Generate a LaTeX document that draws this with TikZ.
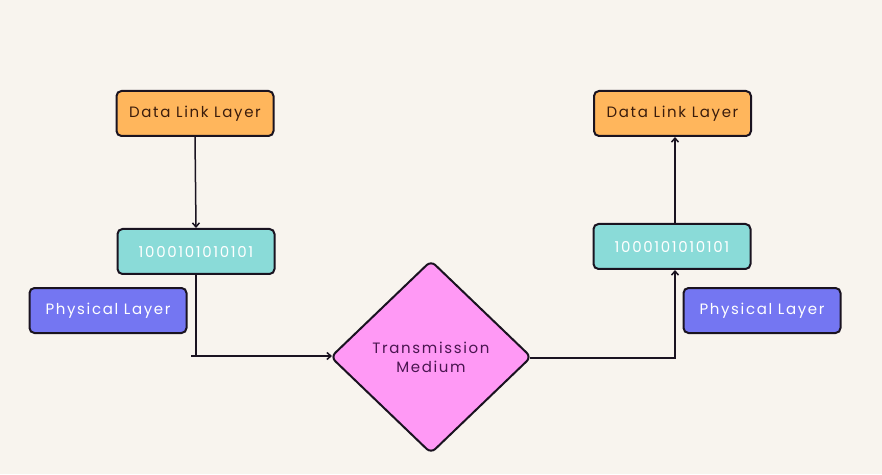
\documentclass[tikz,border=0pt]{standalone}
\usepackage{fontspec}
\setmainfont{Poppins}[LetterSpace=11]
\usetikzlibrary{shapes.geometric,arrows.meta}
\definecolor{bg}{HTML}{F8F4EE}
\definecolor{dll}{HTML}{FFB65C}
\definecolor{bits}{HTML}{8ADBD8}
\definecolor{phys}{HTML}{7476F2}
\definecolor{med}{HTML}{FF99F5}
\definecolor{dlltext}{HTML}{3A1C0C}
\definecolor{medtext}{HTML}{4A1550}
\definecolor{edge}{HTML}{1A1320}
\tikzset{
  box/.style={draw=edge, line width=2pt, rounded corners=5pt, minimum width=157pt, minimum height=45pt, inner sep=0pt, font=\fontsize{15}{18}\selectfont},
  dllbox/.style={box, fill=dll, text=dlltext},
  bitsbox/.style={box, fill=bits, text=white},
  physbox/.style={box, fill=phys, text=white},
  medbox/.style={diamond, draw=edge, line width=2pt, rounded corners=6pt, fill=med, text=medtext, minimum width=201pt, minimum height=193pt, inner sep=0pt, align=center, font=\fontsize{15}{19}\selectfont},
  link/.style={draw=edge, line width=1.5pt, -{Straight Barb[length=4pt,width=7pt]}},
}
\begin{document}
\begin{tikzpicture}[x=1pt,y=1pt]
\fill[bg] (0,0) rectangle (882,474);
\useasboundingbox (0,0) rectangle (882,474);
\node[dllbox] (dllL) at (195,360.5) {Data Link Layer};
\node[bitsbox] (bitsL) at (196,222.5) {1000101010101};
\node[physbox] (physL) at (108,163.5) {Physical Layer};
\node[medbox] (med) at (431,117) {Transmission\\Medium};
\node[dllbox] (dllR) at (672.5,360.5) {Data Link Layer};
\node[bitsbox] (bitsR) at (672,227.5) {1000101010101};
\node[physbox] (physR) at (762,163.5) {Physical Layer};
\coordinate (cornerL) at (196,118);
\coordinate (tickL) at (191,118);
\coordinate (cornerR) at (675,116);
\draw[link] (dllL.south) -- (bitsL.north);
\draw[draw=edge, line width=1.5pt] (bitsL.south) -- (cornerL);
\draw[link] (tickL) -- ([xshift=2.5pt]med.west |- cornerL);
\draw[link] ([xshift=-2.5pt]med.east |- cornerR) -- (cornerR) -- (bitsR.south -| cornerR);
\draw[link] (bitsR.north -| cornerR) -- (dllR.south -| cornerR);
\end{tikzpicture}
\end{document}
